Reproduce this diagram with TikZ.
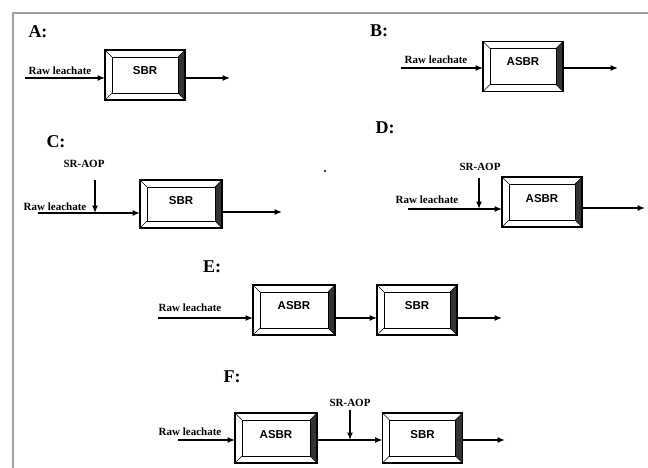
\documentclass[tikz,border=0pt]{standalone}
\usepackage{fontspec}
\setmainfont{Liberation Serif}
\setsansfont{Liberation Sans}
\usetikzlibrary{arrows.meta}
\tikzset{
  frameline/.style={draw=gray!75, line width=1.2pt},
  rbox/.style={draw=none, minimum width=80pt, minimum height=50pt, inner sep=0pt, outer sep=0pt},
  flow/.style={line width=1.3pt, -{Latex[length=7.5pt,width=6pt]}},
  lbl/.style={font=\fontsize{18}{18}\selectfont\bfseries, inner sep=0pt},
  raw/.style={font=\fontsize{11}{11}\selectfont\bfseries, inner sep=0pt},
  rtxt/.style={font=\sffamily\fontsize{11.5}{12}\selectfont\bfseries, inner sep=0pt},
  aop/.style={font=\fontsize{11}{11}\selectfont\bfseries, inner sep=0pt},
}
\newcommand\bevelbox[1]{%
  \fill[gray!40!black] (#1.north east) -- (#1.south east) -- ([xshift=-7pt,yshift=7pt]#1.south east) -- ([xshift=-7pt,yshift=-7pt]#1.north east) -- cycle;
  \draw[line width=0.6pt] ([xshift=7pt,yshift=-7pt]#1.north west) rectangle ([xshift=-7pt,yshift=7pt]#1.south east);
  \draw[line width=0.6pt] (#1.north west) -- ([xshift=7pt,yshift=-7pt]#1.north west)
    (#1.south west) -- ([xshift=7pt,yshift=7pt]#1.south west)
    (#1.north east) -- ([xshift=-7pt,yshift=-7pt]#1.north east)
    (#1.south east) -- ([xshift=-7pt,yshift=7pt]#1.south east);
  \draw[line width=1.1pt] (#1.north west) rectangle (#1.south east);
}
\begin{document}
\begin{tikzpicture}[x=1pt,y=-1pt]
\useasboundingbox (0,0) rectangle (648,468);
\draw[frameline] (13,468) -- (13,13) -- (648,13);

% A
\node[lbl] (la) at (38,32) {A:};
\node[rbox] (a) at (145,75) {};
\bevelbox{a}
\node[rtxt] (at) at (145,71) {SBR};
\coordinate (ain) at (25,78);
\coordinate (aout) at (230,78);
\node[raw] (araw) at (60,71) {Raw leachate};
\draw[flow] (ain) -- (ain -| a.west);
\draw[flow] (a.east |- aout) -- (aout);

% B
\node[lbl] (lb) at (379,31) {B:};
\node[rbox] (b) at (523,66.5) {};
\bevelbox{b}
\node[rtxt] (bt) at (523,62) {ASBR};
\coordinate (bin) at (401,68);
\coordinate (bout) at (618,68);
\node[raw] (braw) at (436,60) {Raw leachate};
\draw[flow] (bin) -- (bin -| b.west);
\draw[flow] (b.east |- bout) -- (bout);

% C
\node[lbl] (lc) at (56,142) {C:};
\node[rbox, minimum width=82pt, minimum height=48pt] (c) at (181,204) {};
\bevelbox{c}
\node[rtxt] (ct) at (181,201) {SBR};
\coordinate (cin) at (38,213);
\coordinate (cout) at (282,212);
\coordinate (caop) at (95,180);
\node[raw] (craw) at (55,207) {Raw leachate};
\node[aop] (caopt) at (84,164) {SR-AOP};
\draw[flow] (cin) -- (cin -| c.west);
\draw[flow] (caop) -- (caop |- cin);
\draw[flow] (c.east |- cout) -- (cout);

% stray dot
\fill (325,171) circle (1.2);

% D
\node[lbl] (ld) at (385,128) {D:};
\node[rbox] (d) at (542,202) {};
\bevelbox{d}
\node[rtxt] (dt) at (542,199) {ASBR};
\coordinate (din) at (408,209);
\coordinate (dout) at (645,208);
\coordinate (daop) at (479,178);
\node[raw] (draw) at (427,200) {Raw leachate};
\node[aop] (daopt) at (480,167) {SR-AOP};
\draw[flow] (din) -- (din -| d.west);
\draw[flow] (daop) -- (daop |- din);
\draw[flow] (d.east |- dout) -- (dout);

% E
\node[lbl] (le) at (212,267) {E:};
\node[rbox, minimum width=82pt] (e1) at (294,310) {};
\bevelbox{e1}
\node[rtxt] (e1t) at (294,306) {ASBR};
\node[rbox] (e2) at (417,310) {};
\bevelbox{e2}
\node[rtxt] (e2t) at (417,306) {SBR};
\coordinate (ein) at (158,318);
\coordinate (eout) at (502,318);
\node[raw] (eraw) at (190,308) {Raw leachate};
\draw[flow] (ein) -- (ein -| e1.west);
\draw[flow] (e1.east |- ein) -- (ein -| e2.west);
\draw[flow] (e2.east |- eout) -- (eout);

% F
\node[lbl] (lf) at (232,377) {F:};
\node[rbox, minimum width=82pt] (f1) at (276,438) {};
\bevelbox{f1}
\node[rtxt] (f1t) at (276,435) {ASBR};
\node[rbox] (f2) at (422.5,438) {};
\bevelbox{f2}
\node[rtxt] (f2t) at (422.5,435) {SBR};
\coordinate (fin) at (178,440);
\coordinate (fout) at (505,440);
\coordinate (faop) at (350,410);
\node[raw] (fraw) at (190,432) {Raw leachate};
\node[aop] (faopt) at (350,403) {SR-AOP};
\draw[flow] (fin) -- (fin -| f1.west);
\draw[flow] (faop) -- (faop |- fin);
\draw[flow] (f1.east |- fin) -- (fin -| f2.west);
\draw[flow] (f2.east |- fout) -- (fout);
\end{tikzpicture}
\end{document}
